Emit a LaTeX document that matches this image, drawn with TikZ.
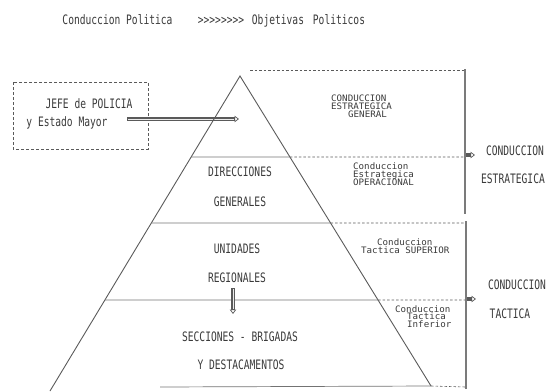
\documentclass[tikz,border=0pt]{standalone}
\usepackage{fontspec}
\usetikzlibrary{arrows.meta}
\newfontfamily\dotbig{DejaVu Sans Mono}[FakeStretch=0.74]
\newfontfamily\dotsmall{DejaVu Sans Mono}[FakeStretch=1.03]
\definecolor{ink}{HTML}{3A3A3A}
\definecolor{rule}{HTML}{5A5A5A}
\begin{document}
\begin{tikzpicture}[x=1pt,y=-1pt,
  big/.style={font=\dotbig\fontsize{13}{15}\selectfont, text=ink, inner sep=0pt,
    text height=9.5pt, text depth=0pt},
  small/.style={font=\dotsmall\fontsize{8.9}{7}\selectfont, text=ink, inner sep=0pt,
    text height=6.5pt, text depth=0pt, anchor=west},
  edge/.style={draw=rule, line width=0.9pt},
  sep/.style={draw=rule!85, line width=0.7pt},
  lead/.style={draw=rule, line width=0.6pt, dash pattern=on 2.5pt off 2pt},
  bracket/.style={draw=rule!80, line width=2pt},
  % hollow arrow built from three strokes: head, outline, light core
  headline/.style={draw=rule, line width=0.7pt, -{Triangle[open, length=4.5pt, width=6.5pt]}},
  shaft/.style={draw=rule, line width=3.3pt, shorten >=4.5pt},
  core/.style={draw=rule!12, line width=1pt, shorten >=4.8pt, shorten <=1pt},
  frame/.style={draw=rule, line width=0.7pt, dash pattern=on 3pt off 2pt}]
\useasboundingbox (0,0) rectangle (548,391);

% heading
\node[big] (polcond) at (117.5,20) {Conduccion Politica};
\node[big] (chev) at (221,20) {>>>>>>>>};
\node[big] (objA) at (278,20) {Objetivas};
\node[big] (objB) at (339,20) {Politicos};

% chief of police box
\draw[frame] (13,82) rectangle (148,149);
\node[big] (jefe) at (89,104) {JEFE de POLICIA};
\node[big] (mayor) at (67,122) {y Estado Mayor};
\coordinate (arrS) at (127,119);
\coordinate (arrE) at (239,119);
\draw[headline] (arrS) -- (arrE);
\draw[shaft] (arrS) -- (arrE);
\draw[core] (arrS) -- (arrE);

% pyramid
\coordinate (apex) at (240,76);
\coordinate (bl) at (50,391);
\coordinate (br) at (431,386);
\draw[edge] (bl) -- (apex) -- (br);

\coordinate (l1) at (intersection of apex--bl and 0,157--10,157);
\coordinate (r1) at (intersection of apex--br and 0,157--10,157);
\coordinate (l2) at (intersection of apex--bl and 0,223--10,223);
\coordinate (r2) at (intersection of apex--br and 0,223--10,223);
\coordinate (l3) at (intersection of apex--bl and 0,300--10,300);
\coordinate (r3) at (intersection of apex--br and 0,300--10,300);
\coordinate (l4) at (160,387);

\draw[sep] (l1) -- (r1);
\draw[sep] (l2) -- (r2);
\draw[sep] (l3) -- (r3);
\draw[sep] (l4) -- (br);

% leaders to the brackets
\coordinate (t0) at (250,70);
\coordinate (e0) at (465,70);
\coordinate (e1) at (465,157);
\coordinate (e2) at (466,223);
\coordinate (e3) at (466,300);
\coordinate (e4) at (466,387);
\draw[lead] (t0) -- (e0);
\draw[lead] (r1) -- (e1);
\draw[lead] (r2) -- (e2);
\draw[lead] (r3) -- (e3);
\draw[lead] (br) -- (e4);

% brackets
\coordinate (bk1a) at (465,69);
\coordinate (bk1b) at (465,214);
\coordinate (bk2a) at (466,221);
\coordinate (bk2b) at (466,389);
\draw[bracket] (bk1a) -- (bk1b);
\draw[bracket] (bk2a) -- (bk2b);
\coordinate (p1) at (466,155);
\coordinate (q1) at (475,155);
\coordinate (p2) at (467,299);
\coordinate (q2) at (476,299);
\draw[headline] (p1) -- (q1);
\draw[shaft] (p1) -- (q1);
\draw[headline] (p2) -- (q2);
\draw[shaft] (p2) -- (q2);

% levels
\node[big] (dir) at (240,172) {DIRECCIONES};
\node[big] (gen) at (240,202) {GENERALES};
\node[big] (uni) at (237,249) {UNIDADES};
\node[big] (reg) at (237,278) {REGIONALES};
\node[big] (sec) at (240,337) {SECCIONES - BRIGADAS};
\node[big] (des) at (241,365) {Y DESTACAMENTOS};
\coordinate (dnS) at (233,288);
\coordinate (dnE) at (233,314);
\draw[headline] (dnS) -- (dnE);
\draw[shaft] (dnS) -- (dnE);
\draw[core] (dnS) -- (dnE);

% level descriptions
\node[small] (c1a) at (331,98) {CONDUCCION};
\node[small] (c1b) at (331,106) {ESTRATEGICA};
\node[small] (c1c) at (348,114) {GENERAL};
\node[small] (c2a) at (353,166) {Conduccion};
\node[small] (c2b) at (353,174) {Estrategica};
\node[small] (c2c) at (353,182) {OPERACIONAL};
\node[small] (c3a) at (377,242) {Conduccion};
\node[small] (c3b) at (361,250) {Tactica SUPERIOR};
\node[small] (c4a) at (395,309) {Conduccion};
\node[small] (c4b) at (407,316.5) {Tactica};
\node[small] (c4c) at (407,324) {Inferior};

% groupings
\node[big] (ceA) at (515,151) {CONDUCCION};
\node[big] (ceB) at (513,179) {ESTRATEGICA};
\node[big] (ctA) at (517,285) {CONDUCCION};
\node[big] (ctB) at (510,314) {TACTICA};
\end{tikzpicture}
\end{document}
